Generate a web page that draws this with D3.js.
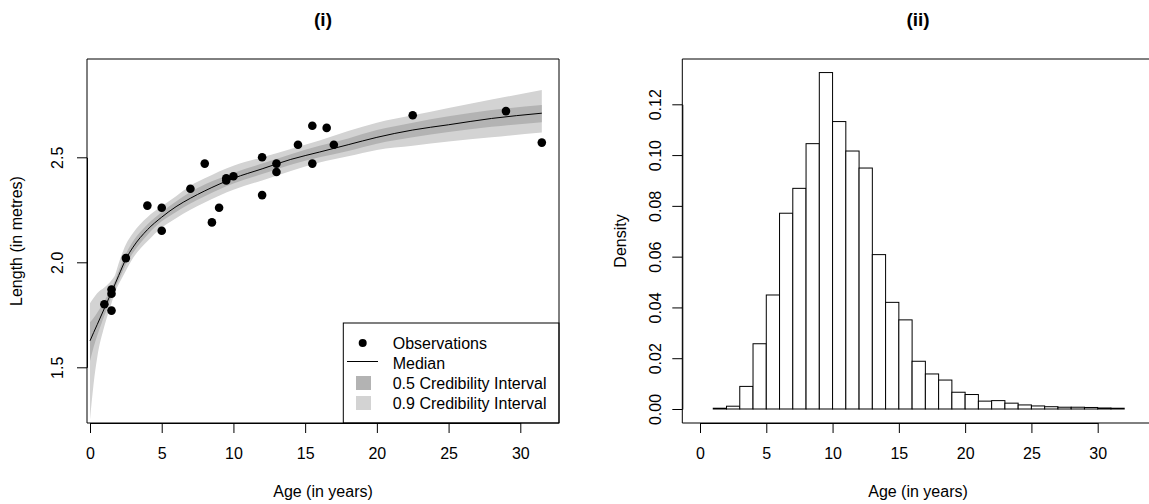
<!DOCTYPE html>
<html>
<head>
<meta charset="utf-8">
<script src="https://cdn.jsdelivr.net/npm/d3@7"></script>
<style>
  body { margin: 0; background: #fff; }
  svg { display: block; }
  text { font-family: "Liberation Sans", Arial, Helvetica, sans-serif; fill: #000; }
</style>
</head>
<body>
<svg id="chart" width="1149" height="504"></svg>
<script>
// Dugong observations: age (years) and length (metres)
const obsAge = [1.0, 1.5, 1.5, 1.5, 2.5, 4.0, 5.0, 5.0, 7.0, 8.0, 8.5, 9.0, 9.5, 9.5, 10.0,
                12.0, 12.0, 13.0, 13.0, 14.5, 15.5, 15.5, 16.5, 17.0, 22.5, 29.0, 31.5];
const obsLength = [1.80, 1.85, 1.87, 1.77, 2.02, 2.27, 2.15, 2.26, 2.35, 2.47, 2.19, 2.26, 2.40, 2.39, 2.41,
                   2.50, 2.32, 2.43, 2.47, 2.56, 2.65, 2.47, 2.64, 2.56, 2.70, 2.72, 2.57];

// Posterior summaries of the growth curve on an age grid
const gridAge  = [0, 0.25, 0.5, 1, 1.5, 1.75, 2, 2.5, 3, 4, 5, 6, 7, 8, 10, 12, 14, 16, 18, 20, 22.5, 25, 28, 31.5];
const median   = [1.626, 1.665, 1.703, 1.78, 1.858, 1.897, 1.937, 2.015, 2.072, 2.155, 2.215, 2.265, 2.305, 2.34,
                  2.40, 2.445, 2.49, 2.525, 2.56, 2.595, 2.63, 2.655, 2.685, 2.71];
const lower50  = [1.53, 1.595, 1.65, 1.745, 1.835, 1.878, 1.915, 1.99, 2.045, 2.13, 2.195, 2.24, 2.28, 2.315,
                  2.375, 2.42, 2.465, 2.50, 2.53, 2.565, 2.595, 2.62, 2.645, 2.667];
const upper50  = [1.715, 1.735, 1.76, 1.815, 1.88, 1.915, 1.96, 2.04, 2.10, 2.18, 2.24, 2.29, 2.335, 2.37,
                  2.425, 2.47, 2.515, 2.555, 2.59, 2.63, 2.665, 2.695, 2.725, 2.749];
const lower90  = [1.25, 1.42, 1.545, 1.695, 1.805, 1.86, 1.895, 1.96, 2.02, 2.10, 2.165, 2.21, 2.25, 2.285,
                  2.345, 2.39, 2.435, 2.475, 2.505, 2.535, 2.555, 2.575, 2.595, 2.618];
const upper90  = [1.805, 1.83, 1.853, 1.88, 1.915, 1.94, 1.995, 2.085, 2.14, 2.215, 2.267, 2.315, 2.365, 2.40,
                  2.46, 2.50, 2.54, 2.58, 2.625, 2.665, 2.70, 2.735, 2.775, 2.82];

// Histogram of age: bins of width one year starting at binStart
const binStart   = [1, 2, 3, 4, 5, 6, 7, 8, 9, 10, 11, 12, 13, 14, 15, 16, 17, 18, 19, 20,
                    21, 22, 23, 24, 25, 26, 27, 28, 29, 30, 31];
const binDensity = [0.0003, 0.0011, 0.0089, 0.0257, 0.0449, 0.0771, 0.0869, 0.1045, 0.1325, 0.1132,
                    0.1016, 0.0949, 0.0608, 0.0420, 0.0351, 0.0188, 0.0138, 0.0114, 0.0066, 0.0057,
                    0.0031, 0.0033, 0.0023, 0.0016, 0.0012, 0.0009, 0.0007, 0.0007, 0.0006, 0.0004, 0.0003];

// Tick labels
const ageTicks = [0, 5, 10, 15, 20, 25, 30];
const lengthTicks = [1.5, 2.0, 2.5];
const densityTicks = [0, 0.02, 0.04, 0.06, 0.08, 0.10, 0.12];

const FS = 16;
const svg = d3.select("#chart");

// ---------- Panel (i): growth curve ----------
const boxL = { left: 87, right: 559, top: 59, bottom: 423 };
const xL = d3.scaleLinear().domain([0, 30]).range([90, 520.3]);
const yL = d3.scaleLinear().domain([1.5, 2.5]).range([367.3, 157.3]);

const gL = svg.append("g");
const grid = gridAge.map((a, i) => ({ a, m: median[i], l5: lower50[i], u5: upper50[i], l9: lower90[i], u9: upper90[i] }));

gL.append("path").datum(grid)
  .attr("fill", "#d3d3d3")
  .attr("d", d3.area().curve(d3.curveMonotoneX).x(d => xL(d.a)).y0(d => yL(d.l9)).y1(d => yL(d.u9)));
gL.append("path").datum(grid)
  .attr("fill", "#b3b3b3")
  .attr("d", d3.area().curve(d3.curveMonotoneX).x(d => xL(d.a)).y0(d => yL(d.l5)).y1(d => yL(d.u5)));
gL.append("path").datum(grid)
  .attr("fill", "none").attr("stroke", "#000").attr("stroke-width", 1)
  .attr("d", d3.line().curve(d3.curveMonotoneX).x(d => xL(d.a)).y(d => yL(d.m)));

gL.selectAll("circle.obs").data(obsAge.map((a, i) => ({ a, y: obsLength[i] })))
  .enter().append("circle").attr("class", "obs")
  .attr("cx", d => xL(d.a)).attr("cy", d => yL(d.y)).attr("r", 4.3).attr("fill", "#000");

// Legend (bottom right)
const leg = gL.append("g");
leg.append("rect").attr("x", 343.3).attr("y", 323).attr("width", boxL.right - 343.3).attr("height", boxL.bottom - 323)
  .attr("fill", "#fff").attr("stroke", "#000").attr("stroke-width", 1);
const legItems = ["Observations", "Median", "0.5 Credibility Interval", "0.9 Credibility Interval"];
legItems.forEach((t, i) => {
  const cy = 343 + i * 20;
  leg.append("text").attr("x", 392.7).attr("y", cy + 5.8).attr("font-size", FS).text(t);
  if (i === 0) leg.append("circle").attr("cx", 362.7).attr("cy", cy).attr("r", 4).attr("fill", "#000");
  if (i === 1) leg.append("line").attr("x1", 347).attr("x2", 378).attr("y1", cy - 1.5).attr("y2", cy - 1.5).attr("stroke", "#000");
  if (i === 2) leg.append("rect").attr("x", 356).attr("y", cy - 7).attr("width", 15).attr("height", 14).attr("fill", "#b3b3b3");
  if (i === 3) leg.append("rect").attr("x", 356).attr("y", cy - 7).attr("width", 15).attr("height", 14).attr("fill", "#d3d3d3");
});

function drawBox(g, b) {
  g.append("path")
    .attr("d", `M${b.left},${b.top}H${b.right}V${b.bottom}H${b.left}Z`)
    .attr("fill", "none").attr("stroke", "#000").attr("stroke-width", 1);
}
drawBox(gL, boxL);

function styleAxis(ax) {
  ax.selectAll("path.domain").attr("stroke", "#000");
  ax.selectAll(".tick line").attr("stroke", "#000");
  ax.selectAll("text").attr("font-size", FS).attr("font-family", null).attr("fill", "#000");
}

const axXL = gL.append("g").attr("transform", `translate(0,${boxL.bottom})`)
  .call(d3.axisBottom(xL).tickValues(ageTicks).tickSize(10).tickSizeOuter(0).tickFormat(d3.format("d")));
styleAxis(axXL);
axXL.selectAll(".tick text").attr("y", 36).attr("dy", 0);

const axYL = gL.append("g").attr("transform", `translate(${boxL.left},0)`)
  .call(d3.axisLeft(yL).tickValues(lengthTicks).tickSize(10).tickSizeOuter(0).tickFormat(d3.format(".1f")));
styleAxis(axYL);
axYL.selectAll(".tick text").attr("x", 0).attr("y", 0).attr("dy", 0)
  .attr("text-anchor", "middle").attr("transform", "translate(-24,0) rotate(-90)");

gL.append("text").attr("x", 323).attr("y", 497).attr("text-anchor", "middle").attr("font-size", FS).text("Age (in years)");
gL.append("text").attr("transform", `translate(21.6,${(boxL.top + boxL.bottom) / 2}) rotate(-90)`)
  .attr("text-anchor", "middle").attr("font-size", FS).text("Length (in metres)");
gL.append("text").attr("x", 323).attr("y", 26).attr("text-anchor", "middle")
  .attr("font-size", 19).attr("font-weight", "bold").text("(i)");

// ---------- Panel (ii): histogram ----------
const boxR = { left: 682.3, right: 1155, top: 59, bottom: 423 };
const xR = d3.scaleLinear().domain([0, 30]).range([700, 1097.7]);
const yR = d3.scaleLinear().domain([0, 0.12]).range([409, 104.3]);
const gR = svg.append("g");

gR.selectAll("rect.bar").data(binStart.map((s, i) => ({ s, d: binDensity[i] })))
  .enter().append("rect").attr("class", "bar")
  .attr("x", d => xR(d.s)).attr("width", d => xR(d.s + 1) - xR(d.s))
  .attr("y", d => yR(d.d)).attr("height", d => yR(0) - yR(d.d))
  .attr("fill", "#fff").attr("stroke", "#000").attr("stroke-width", 1);

drawBox(gR, boxR);

const axXR = gR.append("g").attr("transform", `translate(0,${boxR.bottom})`)
  .call(d3.axisBottom(xR).tickValues(ageTicks).tickSize(10).tickSizeOuter(0).tickFormat(d3.format("d")));
styleAxis(axXR);
axXR.selectAll(".tick text").attr("y", 36).attr("dy", 0);

const axYR = gR.append("g").attr("transform", `translate(${boxR.left},0)`)
  .call(d3.axisLeft(yR).tickValues(densityTicks).tickSize(10).tickSizeOuter(0).tickFormat(d3.format(".2f")));
styleAxis(axYR);
axYR.selectAll(".tick text").attr("x", 0).attr("y", 0).attr("dy", 0)
  .attr("text-anchor", "middle").attr("transform", "translate(-21,0) rotate(-90)");

const cxR = 918;
gR.append("text").attr("x", cxR).attr("y", 497).attr("text-anchor", "middle").attr("font-size", FS).text("Age (in years)");
gR.append("text").attr("transform", `translate(626,${(boxR.top + boxR.bottom) / 2}) rotate(-90)`)
  .attr("text-anchor", "middle").attr("font-size", FS).text("Density");
gR.append("text").attr("x", cxR).attr("y", 26).attr("text-anchor", "middle")
  .attr("font-size", 19).attr("font-weight", "bold").text("(ii)");
</script>
</body>
</html>
